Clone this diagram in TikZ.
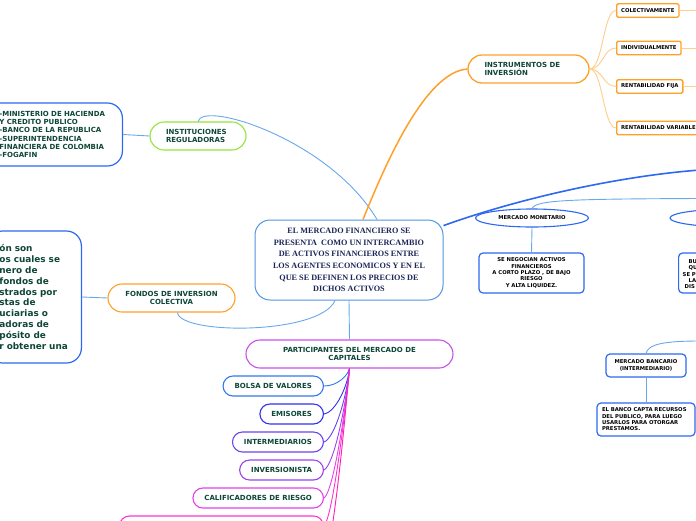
\documentclass[tikz,border=0pt]{standalone}
\usepackage{fontspec}
\setmainfont{Liberation Serif}
\newfontfamily\vfam{DejaVu Sans}
\usetikzlibrary{shapes.geometric}
\definecolor{dgreen}{RGB}{14,70,55}
\definecolor{navyt}{RGB}{28,38,88}
\definecolor{lblue}{RGB}{105,168,236}
\definecolor{cblue}{RGB}{80,150,225}
\definecolor{bblue}{RGB}{45,105,240}
\definecolor{lgreen}{RGB}{150,228,60}
\definecolor{orng}{RGB}{255,160,40}
\definecolor{lorng}{RGB}{255,205,140}
\definecolor{purp}{RGB}{200,80,238}
\definecolor{cA}{RGB}{50,120,238}
\definecolor{cB}{RGB}{50,50,238}
\definecolor{cC}{RGB}{105,68,238}
\definecolor{cD}{RGB}{155,68,238}
\definecolor{cE}{RGB}{225,65,238}
\definecolor{cF}{RGB}{255,50,205}
\definecolor{cG}{RGB}{255,30,185}
\newcommand\mmfA{\vfam\bfseries\fontsize{7}{8.2}\selectfont}
\newcommand\mmfS{\vfam\bfseries\fontsize{5.3}{6.3}\selectfont}
\newcommand\mmfC{\vfam\bfseries\fontsize{8.9}{10.8}\selectfont}
\begin{document}
\begin{tikzpicture}[x=1pt,y=-1pt,
  pill/.style={draw, line width=1.1pt, rounded corners=14pt, minimum height=28pt, inner ysep=0pt, font=\mmfA, text=dgreen},
  spill/.style={draw, line width=1.1pt, rounded corners=10pt, minimum height=20pt, inner xsep=11.5pt, inner ysep=0pt, font=\mmfA, text=dgreen, anchor=east},
  bbox/.style={draw=bblue, line width=1.2pt, rounded corners=15pt, text=dgreen},
  obox/.style={draw=orng, line width=1.3pt, rounded corners=1.5pt, minimum height=13.5pt, inner xsep=4.5pt, inner ysep=0pt, font=\mmfS, text=black, anchor=west},
  sbox/.style={draw=bblue, line width=1.2pt, rounded corners=4pt, font=\mmfS, text=black, inner sep=0pt},
  ell/.style={draw=bblue, ellipse, line width=1.1pt, inner sep=0pt, minimum height=18pt, font=\mmfS, text=black},
  lconn/.style={draw=lblue, line width=0.9pt},
  oconn/.style={draw=lorng, line width=0.9pt},
  frag/.style={anchor=west, inner sep=0pt, font=\mmfS, text=black}
]
\useasboundingbox (0,0) rectangle (696,520);
\clip (0,0) rectangle (696,520);
\fill[white] (0,0) rectangle (696,520);

% central node
\node[draw=cblue, line width=1pt, rounded corners=15pt, minimum width=188pt, minimum height=80pt, align=center, inner sep=0pt,
      font=\bfseries\fontsize{8.2}{11.7}\selectfont, text=navyt] (c) at (349,260)
  {EL MERCADO FINANCIERO SE\\PRESENTA\ \ COMO UN INTERCAMBIO\\DE ACTIVOS FINANCIEROS ENTRE\\LOS AGENTES ECONOMICOS Y EN EL\\QUE SE DEFINEN LOS PRECIOS DE\\DICHOS ACTIVOS};

% instituciones
\node[pill, draw=lgreen, text width=64pt, inner xsep=16pt, align=left] (inst) at (198,136) {INSTITUCIONES\\REGULADORAS};
\node[bbox, anchor=east, text width=108pt, inner xsep=15pt, minimum height=63pt, align=left, font=\mmfA] (reg) at (123,134.5)
  {-MINISTERIO DE HACIENDA\\Y CREDITO PUBLICO\\-BANCO DE LA REPUBLICA\\-SUPERINTENDENCIA\\FINANCIERA DE COLOMBIA\\-FOGAFIN};

% fondos
\node[pill, draw=orng, minimum width=127pt, align=center] (fondos) at (171.5,298) {FONDOS DE INVERSION\\COLECTIVA};
\node[bbox, anchor=east, text width=70pt, inner xsep=12pt, minimum height=132pt, align=left, font=\mmfC] (fdesc) at (82,297)
  {ón son\\os cuales se\\nero de\\fondos de\\strados por\\stas de\\uciarias o\\adoras de\\pósito de\\r obtener una};

% instrumentos
\node[pill, draw=orng, line width=1.3pt, text width=88pt, inner xsep=16.5pt, align=left] (instr) at (528.5,69) {INSTRUMENTOS DE\\INVERSIÓN};
\node[obox] (colec) at (616,10.5) {COLECTIVAMENTE};
\node[obox] (indiv) at (616,48) {INDIVIDUALMENTE};
\node[obox] (fija) at (616,86.5) {RENTABILIDAD FIJA};
\node[obox] (vari) at (616,128) {RENTABILIDAD VARIABLE};
\coordinate (o1) at (700,10.5);
\coordinate (o2) at (700,48);
\coordinate (o3) at (700,86.5);

% mercados
\coordinate (capp) at (700,170);
\coordinate (capp2) at (700,198.5);
\node[ell, minimum width=113pt] (mon) at (532,218) {MERCADO MONETARIO};
\node[ell, minimum width=126pt] (mcap) at (733,218) {MERCADO DE CAPITALES};
\node[sbox, minimum width=105pt, minimum height=40pt, align=center] (monbox) at (531.5,273)
  {SE NEGOCIAN ACTIVOS\\FINANCIEROS\\A CORTO PLAZO , DE BAJO\\RIESGO\\Y ALTA LIQUIDEZ.};
\node[sbox, anchor=west, minimum width=105pt, minimum height=40pt] (capbox) at (678,273) {};
\node[frag] (f1) at (688.5,261.5) {BU};
\node[frag] (f2) at (688.5,267.8) {QU};
\node[frag] (f3) at (682.5,274.1) {SE P};
\node[frag] (f4) at (688.5,280.4) {LA};
\node[frag] (f5) at (684.5,286.7) {DIS};

\coordinate (banp) at (700,341);
\node[sbox, minimum width=80pt, minimum height=23pt, align=center] (banc) at (646,365.5) {MERCADO BANCARIO\\(INTERMEDIARIO)};
\node[sbox, minimum width=98pt, minimum height=33pt, text width=88pt, inner xsep=5pt, align=left] (bancbox) at (646,419.5)
  {EL BANCO CAPTA RECURSOS\\DEL PUBLICO, PARA LUEGO\\USARLOS PARA OTORGAR\\PRESTAMOS.};

% participantes
\node[pill, draw=purp, minimum width=207pt, align=center] (part) at (349.5,354) {PARTICIPANTES DEL MERCADO DE\\CAPITALES};
\node[spill, draw=cA] (bolsa) at (324,386) {BOLSA DE VALORES};
\node[spill, draw=cB] (emis) at (324,414) {EMISORES};
\node[spill, draw=cC] (inter) at (324,442) {INTERMEDIARIOS};
\node[spill, draw=cD] (inv) at (324,470) {INVERSIONISTA};
\node[spill, draw=cE] (calif) at (324,498) {CALIFICADORES DE RIESGO};
\node[spill, draw=cF, minimum width=204pt] (sexto) at (324,526) {};
\coordinate (p7) at (318,600);

% connectors
\draw[lconn] (inst.north) .. controls (203,100) and (330,140) .. ([xshift=28pt]c.north);
\draw[lconn] (reg.east) -- (inst.west);
\draw[lconn] ([xshift=6pt]fondos.south) .. controls (180,335) and (320,335) .. ([xshift=-14pt]c.south);
\draw[lconn] (fdesc.east) -- (fondos.west);
\draw[draw=orng, line width=1.5pt] ([xshift=14pt]c.north) .. controls (385,165) and (425,72) .. (instr.west);
\foreach \n/\yy in {colec/10.5, indiv/48, fija/86.5, vari/128}{
  \draw[oconn] (instr.east) .. controls (603,69) and (603,\yy) .. (\n.west);
}
\draw[oconn] (colec.east) -- (o1);
\draw[oconn] (indiv.east) -- (o2);
\draw[oconn] (fija.east) -- (o3);
\draw[draw=bblue, line width=1.6pt] (c.20) .. controls (520,198) and (620,176) .. (capp);
\draw[lconn] (mon.north) .. controls (536,200) and (570,199) .. (capp2);
\draw[lconn] (mon.south) -- (monbox.north);
\draw[lconn] (banc.north) .. controls (648,344) and (665,341) .. (banp);
\draw[lconn] (banc.south) -- (bancbox.north);
\draw[lconn] (c.south) -- (part.north);
\draw[draw=cA, line width=0.9pt] (part.south) .. controls (348,375) and (338,386) .. (bolsa.east);
\draw[draw=cB, line width=0.9pt] (part.south) .. controls (348,385) and (336,412) .. (emis.east);
\draw[draw=cC, line width=0.9pt] (part.south) .. controls (347,395) and (335,438) .. (inter.east);
\draw[draw=cD, line width=0.9pt] (part.south) .. controls (346,405) and (334,465) .. (inv.east);
\draw[draw=cE, line width=0.9pt] (part.south) .. controls (345,415) and (333,492) .. (calif.east);
\draw[draw=cF, line width=0.9pt] (part.south) .. controls (344,425) and (332,518) .. (sexto.east);
\draw[draw=cG, line width=0.9pt] (part.south) .. controls (343,440) and (334,540) .. (p7);
\end{tikzpicture}
\end{document}
